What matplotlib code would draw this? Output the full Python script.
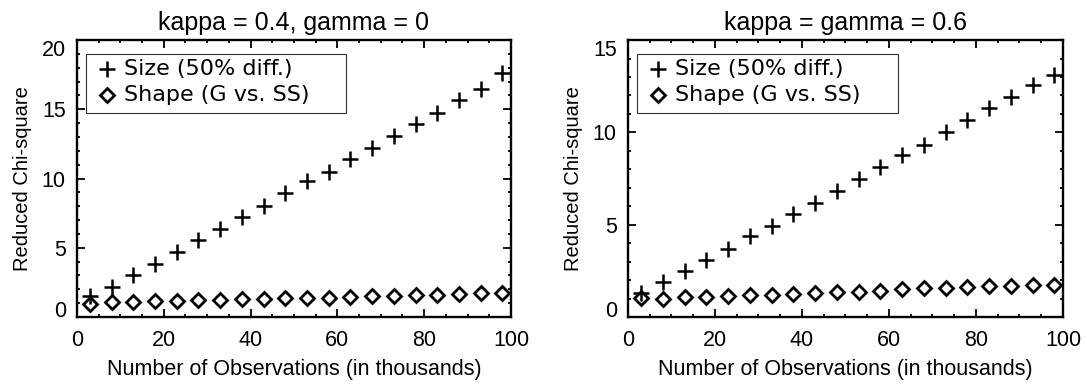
import matplotlib
matplotlib.use("Agg")
import matplotlib.pyplot as plt
from matplotlib.patches import Rectangle

# Number of observations (thousands) at which each test was run
obs_thousands = [3, 8, 13, 18, 23, 28, 33, 38, 43, 48,
                 53, 58, 63, 68, 73, 78, 83, 88, 93, 98]

# kappa = 0.4, gamma = 0
size_k04 = [1.5, 2.2, 3.0, 3.8, 4.7, 5.55, 6.35, 7.2, 8.05, 8.95,
            9.8, 10.5, 11.4, 12.2, 13.1, 13.95, 14.7, 15.7, 16.45, 17.6]
shape_k04 = [0.95, 1.06, 1.06, 1.15, 1.17, 1.21, 1.26, 1.28, 1.33, 1.35,
             1.38, 1.4, 1.44, 1.49, 1.53, 1.58, 1.6, 1.65, 1.7, 1.76]

# kappa = gamma = 0.6
size_k06 = [1.3, 1.9, 2.5, 3.1, 3.7, 4.4, 4.95, 5.6, 6.2, 6.85,
            7.45, 8.1, 8.75, 9.3, 10.0, 10.65, 11.3, 11.9, 12.55, 13.1]
shape_k06 = [1.05, 1.0, 1.06, 1.1, 1.14, 1.17, 1.18, 1.25, 1.31, 1.36,
             1.38, 1.43, 1.51, 1.57, 1.57, 1.61, 1.66, 1.68, 1.72, 1.75]

titles = ["kappa = 0.4, gamma = 0", "kappa = gamma = 0.6"]
series_labels = ["Size (50% diff.)", "Shape (G vs. SS)"]
x_ticks = [0, 20, 40, 60, 80, 100]
x_minor = list(range(0, 101, 5))
y_ticks = [[0, 5, 10, 15, 20], [0, 5, 10, 15]]
y_minor = [list(range(0, 21)), list(range(0, 16))]
x_label = "Number of Observations (in thousands)"
y_label = "Reduced Chi-square"

NARROW = ["Liberation Sans Narrow", "Liberation Sans", "DejaVu Sans"]
plt.rcParams["font.family"] = NARROW

plus_style = dict(marker="+", markersize=11.5, markeredgewidth=1.8, color="black")
diamond_style = dict(marker="D", markersize=7.0, markeredgewidth=2.0,
                     markerfacecolor="none", color="black")

fig = plt.figure(figsize=(10.87, 3.89), dpi=100)
positions = [[0.0708, 0.185, 0.3993, 0.712],
             [0.5777, 0.185, 0.4002, 0.712]]
panels = [(size_k04, shape_k04), (size_k06, shape_k06)]

for i, (pos, (size_vals, shape_vals), title) in enumerate(zip(positions, panels, titles)):
    ax = fig.add_axes(pos)
    ax.plot(obs_thousands, size_vals, linestyle="none", clip_on=False, **plus_style)
    ax.plot(obs_thousands, shape_vals, linestyle="none", clip_on=False, **diamond_style)

    ax.set_xlim(x_ticks[0], x_ticks[-1])
    ax.set_ylim(y_ticks[i][0], y_ticks[i][-1])
    ax.set_xticks(x_ticks)
    ax.set_xticks(x_minor, minor=True)
    ax.set_yticks(y_ticks[i])
    ax.set_yticks(y_minor[i], minor=True)
    ax.tick_params(which="both", direction="in", top=True, right=True,
                   width=1.3, labelsize=15.5)
    ax.tick_params(which="major", length=5.5)
    ax.tick_params(axis="x", which="major", pad=9)
    ax.tick_params(axis="y", which="major", pad=8)
    ax.tick_params(which="minor", length=2.5)
    for spine in ax.spines.values():
        spine.set_linewidth(1.7)

    # keep the end labels of the y axis inside the frame height
    yt = ax.yaxis.get_major_ticks()
    yt[0].label1.set_va("baseline")
    yt[-1].label1.set_va("top")

    ax.set_title(title, fontsize=18, pad=7)
    ax.set_xlabel(x_label, fontsize=15.5, labelpad=6)
    ax.set_ylabel(y_label, fontsize=14.5, labelpad=7,
                  family=["Liberation Sans", "DejaVu Sans"])

    # boxed key in the upper-left corner
    ax.add_patch(Rectangle((0.0207, 0.736), 0.5993, 0.213, transform=ax.transAxes,
                           facecolor="white", edgecolor="#333333", linewidth=0.8,
                           zorder=3, clip_on=False))
    rows = [0.897, 0.801]
    styles = [plus_style, diamond_style]
    for row_y, style, lab in zip(rows, styles, series_labels):
        ax.plot([0.069], [row_y], transform=ax.transAxes, linestyle="none",
                zorder=4, clip_on=False, **style)
        ax.text(0.108, row_y, lab, transform=ax.transAxes, ha="left",
                va="center", fontsize=16, family="DejaVu Sans", zorder=4)

fig.savefig("out.png", dpi=100)
